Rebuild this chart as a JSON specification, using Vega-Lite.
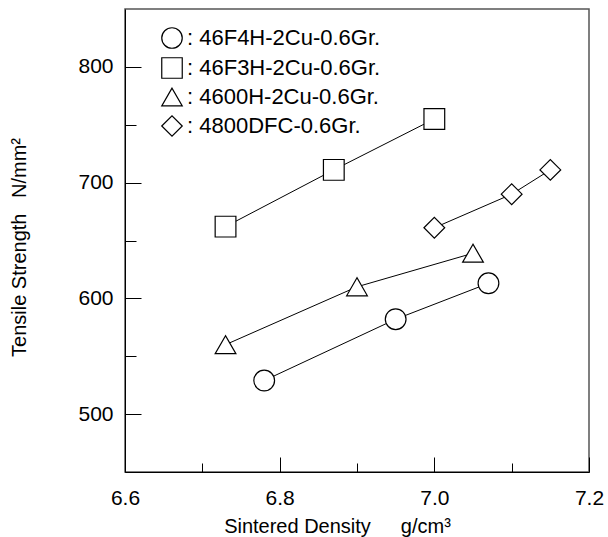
{
  "$schema": "https://vega.github.io/schema/vega-lite/v6.json",
  "width": 464,
  "height": 463,
  "autosize": "none",
  "padding": {"left": 125, "top": 9, "right": 18, "bottom": 65},
  "background": "white",
  "config": {
    "view": {"stroke": "#555555", "strokeWidth": 1.5},
    "font": "Liberation Sans"
  },
  "data": {
    "values": [
      {"series": "46F4H-2Cu-0.6Gr.", "density": 6.78, "strength": 529},
      {"series": "46F4H-2Cu-0.6Gr.", "density": 6.95, "strength": 582},
      {"series": "46F4H-2Cu-0.6Gr.", "density": 7.07, "strength": 613},
      {"series": "46F3H-2Cu-0.6Gr.", "density": 6.73, "strength": 662},
      {"series": "46F3H-2Cu-0.6Gr.", "density": 6.87, "strength": 711},
      {"series": "46F3H-2Cu-0.6Gr.", "density": 7.0, "strength": 755},
      {"series": "4600H-2Cu-0.6Gr.", "density": 6.73, "strength": 560},
      {"series": "4600H-2Cu-0.6Gr.", "density": 6.9, "strength": 610},
      {"series": "4600H-2Cu-0.6Gr.", "density": 7.05, "strength": 639},
      {"series": "4800DFC-0.6Gr.", "density": 7.0, "strength": 661},
      {"series": "4800DFC-0.6Gr.", "density": 7.1, "strength": 690},
      {"series": "4800DFC-0.6Gr.", "density": 7.15, "strength": 711}
    ]
  },
  "encoding": {
    "x": {
      "field": "density",
      "type": "quantitative",
      "scale": {"domain": [6.6, 7.2], "nice": false, "zero": false},
      "axis": {
        "title": "Sintered Density\u2003\u2002g/cm³",
        "values": [6.6, 6.7, 6.8, 6.9, 7.0, 7.1, 7.2],
        "labelExpr": "round(datum.value*10)%2==0 ? format(datum.value,'.1f') : ''",
        "tickSize": {"condition": {"test": "round(datum.value*10)%2==0", "value": -15}, "value": -9},
        "tickColor": "black",
        "tickWidth": 1,
        "domainColor": "black",
        "domainWidth": 1,
        "labelFontSize": 21,
        "labelColor": "black",
        "labelPadding": 30,
        "labelOverlap": false,
        "labelFlush": false,
        "titleFontSize": 20,
        "titleFontWeight": "normal",
        "titleColor": "black",
        "titleX": 212,
        "titleY": 60,
        "titleBaseline": "alphabetic",
        "grid": false
      }
    },
    "y": {
      "field": "strength",
      "type": "quantitative",
      "scale": {"domain": [450, 850], "nice": false, "zero": false},
      "axis": {
        "title": "Tensile Strength\u2002 N/mm²",
        "values": [500, 550, 600, 650, 700, 750, 800],
        "labelExpr": "datum.value % 100 == 0 ? datum.label : ''",
        "tickSize": {"condition": {"test": "datum.value % 100 == 0", "value": -16}, "value": -11},
        "tickColor": "black",
        "tickWidth": 1,
        "domainColor": "black",
        "domainWidth": 1,
        "labelFontSize": 21,
        "labelColor": "black",
        "labelPadding": 28,
        "labelOverlap": false,
        "labelFlush": false,
        "titleFontSize": 20,
        "titleFontWeight": "normal",
        "titleColor": "black",
        "titleX": -106,
        "titleY": 238,
        "titleAngle": -90,
        "titleAlign": "center",
        "titleBaseline": "middle",
        "grid": false
      }
    }
  },
  "layer": [
    {
      "mark": {"type": "line", "color": "black", "strokeWidth": 1},
      "encoding": {
        "detail": {"field": "series", "type": "nominal"},
        "order": {"field": "density", "type": "quantitative"}
      }
    },
    {
      "mark": {"type": "point", "filled": false, "color": "black", "fill": "white", "fillOpacity": 1, "strokeWidth": 1.2, "opacity": 1, "size": 430},
      "encoding": {
        "shape": {
          "field": "series",
          "type": "nominal",
          "scale": {
            "domain": ["46F4H-2Cu-0.6Gr.", "46F3H-2Cu-0.6Gr.", "4600H-2Cu-0.6Gr.", "4800DFC-0.6Gr."],
            "range": ["circle", "square", "triangle-up", "diamond"]
          },
          "legend": {
            "orient": "none",
            "legendX": 36,
            "legendY": 18,
            "title": null,
            "padding": 0,
            "labelExpr": "': ' + datum.label",
            "labelFontSize": 22,
            "labelColor": "black",
            "labelLimit": 400,
            "labelOffset": 4,
            "symbolSize": 420,
            "symbolStrokeWidth": 1.2,
            "symbolOpacity": 1,
            "rowPadding": 4
          }
        }
      }
    }
  ]
}
